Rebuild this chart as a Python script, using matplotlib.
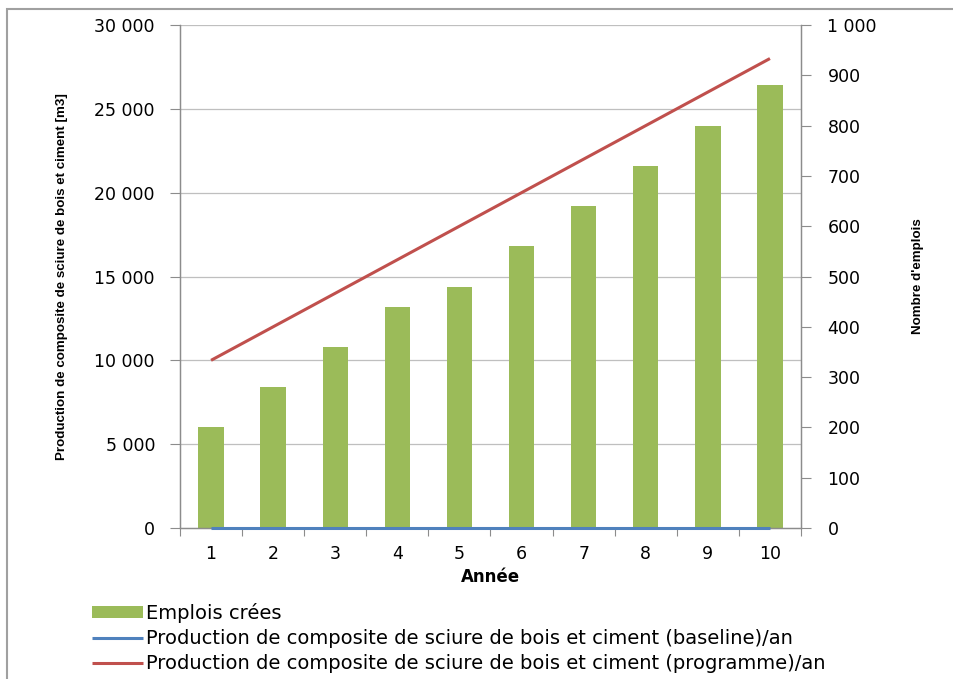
import matplotlib.pyplot as plt
from matplotlib.patches import Rectangle
from matplotlib.ticker import FuncFormatter, FixedLocator

# Data
annees = [1, 2, 3, 4, 5, 6, 7, 8, 9, 10]
emplois = [200, 280, 360, 440, 480, 560, 640, 720, 800, 880]
prod_baseline = [0, 0, 0, 0, 0, 0, 0, 0, 0, 0]
prod_programme = [10000, 12000, 14000, 16000, 18000, 20000, 22000, 24000, 26000, 28000]

green = '#9BBB59'
blue = '#4F81BD'
red = '#C0504D'
grid_gray = '#BFBFBF'
axis_gray = '#8C8C8C'

def fmt_space(v, pos):
    return '{:,.0f}'.format(v).replace(',', ' ')

fig = plt.figure(figsize=(9.54, 6.79), dpi=100)
ax = fig.add_axes([180 / 954, 1 - 528 / 679, (801 - 180) / 954, (528 - 25) / 679])
ax2 = ax.twinx()

# Bars on the secondary axis (jobs), lines on the primary axis (production)
ax2.bar(annees, emplois, width=0.41, color=green, zorder=2, label='Emplois crées')
ax.plot(annees, prod_baseline, color=blue, lw=2.2, solid_capstyle='butt', clip_on=False,
        zorder=4, label='Production de composite de sciure de bois et ciment (baseline)/an')
ax.plot(annees, prod_programme, color=red, lw=2.2, solid_capstyle='butt', zorder=4,
        label='Production de composite de sciure de bois et ciment (programme)/an')

# Draw lines above the bars
ax.set_zorder(ax2.get_zorder() + 1)
ax.patch.set_visible(False)

ax.set_xlim(0.5, 10.5)
ax.set_ylim(0, 30000)
ax2.set_ylim(0, 1000)
ax.set_yticks(range(0, 30001, 5000))
ax2.set_yticks(range(0, 1001, 100))
ax.yaxis.set_major_formatter(FuncFormatter(fmt_space))
ax2.yaxis.set_major_formatter(FuncFormatter(fmt_space))

ax.set_xticks(annees)
ax.xaxis.set_minor_locator(FixedLocator([x + 0.5 for x in range(0, 11)]))
ax.tick_params(axis='x', which='major', length=0, pad=12, labelsize=12.5)
ax.tick_params(axis='x', which='minor', length=6, color=axis_gray, width=0.8)
ax.tick_params(axis='y', length=7, color=axis_gray, width=0.8, labelsize=12.5, pad=11)
ax2.tick_params(axis='y', length=7, color=axis_gray, width=0.8, labelsize=12.5, pad=12)

# Horizontal gridlines on the primary axis
for y in range(5000, 30001, 5000):
    ax2.axhline(y / 30, color=grid_gray, lw=0.9, zorder=0)

for a in (ax, ax2):
    a.spines['top'].set_visible(False)
    for s in ('left', 'right', 'bottom'):
        a.spines[s].set_color(axis_gray)
        a.spines[s].set_linewidth(0.9)

narrow = ['Liberation Sans Narrow', 'Liberation Sans', 'DejaVu Sans']
ax.set_xlabel('Année', fontsize=12, fontweight='bold', labelpad=4)
ax.set_ylabel('Production de composite de sciure de bois et ciment [m3]',
              family=narrow, fontsize=9.6, fontweight='bold', labelpad=19)
ax2.set_ylabel("Nombre d'emplois", family=narrow, fontsize=9.6,
               fontweight='bold', labelpad=25)

# Legend stacked below the chart
h2, l2 = ax2.get_legend_handles_labels()
h1, l1 = ax.get_legend_handles_labels()
fig.legend(h2 + h1, l2 + l1, loc='upper left', bbox_to_anchor=(84 / 954, 1 - 595 / 679),
           frameon=False, prop={'family': 'DejaVu Sans', 'size': 14},
           handlelength=2.65, handleheight=0.55, handletextpad=0.15,
           labelspacing=0.32, borderaxespad=0)

# Outer chart frame
fig.patches.append(Rectangle((7 / 954, -0.05), 1.1, 1 - 9 / 679 + 0.05,
                             transform=fig.transFigure, fill=False,
                             edgecolor='#A0A0A0', lw=1.5))

fig.savefig('out.png', dpi=100)
